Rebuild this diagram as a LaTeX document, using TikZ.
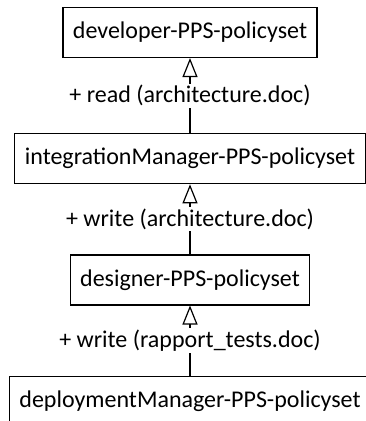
\documentclass[tikz,border=0pt]{standalone}
\usepackage{fontspec}
\setmainfont{Carlito}
\usetikzlibrary{positioning,arrows.meta}
\newcommand{\policyfont}{\fontsize{24}{29}\selectfont}
\begin{document}
\begin{tikzpicture}[x=1pt,y=1pt,
      policy box/.style={draw,line width=1.2pt,minimum height=50pt,inner xsep=10pt,font=\policyfont},
      grant/.style={fill=white,inner sep=1.5pt,font=\policyfont},
      inherit/.style={-{Triangle[open,length=19pt,width=15pt]},line width=1.2pt}]

      \useasboundingbox (0,0) rectangle (365,-421);
      \node[policy box] (developer) at (190,-32.5) {developer-PPS-policyset};
      \node[policy box,below=75pt of developer] (integration) {integrationManager-PPS-policyset};
      \node[policy box,below=70pt of integration] (designer) {designer-PPS-policyset};
      \node[policy box,below=70pt of designer] (deployment) {deploymentManager-PPS-policyset};

      \draw[inherit] (integration) -- node[grant] {+ read (architecture.doc)} (developer);
      \draw[inherit] (designer) -- node[grant] {+ write (architecture.doc)} (integration);
      \draw[inherit] (deployment) -- node[grant] {+ write (rapport\_tests.doc)} (designer);
    \end{tikzpicture}
\end{document}
